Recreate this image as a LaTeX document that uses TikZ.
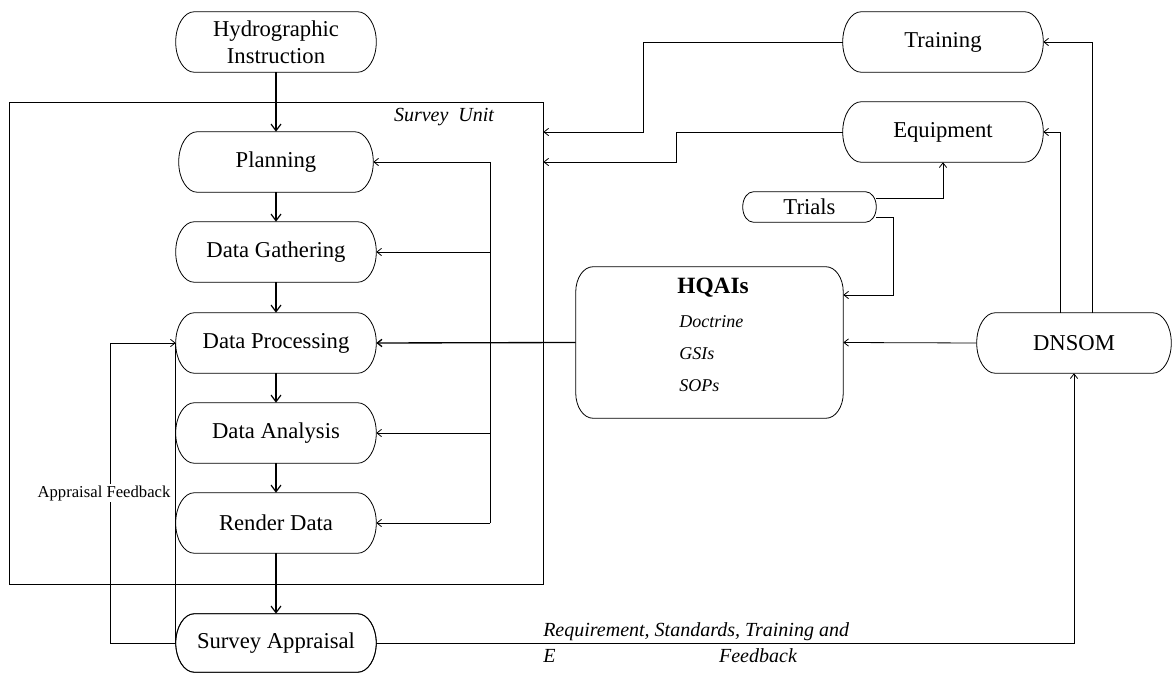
\documentclass[tikz,border=0pt]{standalone}
\usepackage{fontspec}
\setmainfont{Liberation Serif}
\usetikzlibrary{arrows.meta,calc}
\newcommand\mfont{\fontsize{17}{20.5}\selectfont}
\newcommand\ifont{\fontsize{15}{18}\selectfont\itshape}
\newcommand\sfontx{\fontsize{13.5}{15}\selectfont\itshape}
\newcommand\stadium[3]{%
  \draw[line width=0.6pt] ([xshift=#2]#1.north west) -- ([xshift=-#2]#1.north east)
    arc[start angle=90,end angle=0,x radius=#2,y radius=#3]
    -- ([yshift=#3]#1.south east)
    arc[start angle=0,end angle=-90,x radius=#2,y radius=#3]
    -- ([xshift=#2]#1.south west)
    arc[start angle=270,end angle=180,x radius=#2,y radius=#3]
    -- ([yshift=-#3]#1.north west)
    arc[start angle=180,end angle=90,x radius=#2,y radius=#3] -- cycle;}
\begin{document}
\begin{tikzpicture}[x=0.75pt,y=-0.75pt,
  box/.style={minimum width=150pt, minimum height=45pt, inner sep=0pt, align=center, font=\mfont},
  ln/.style={line width=0.6pt},
  arr/.style={line width=0.6pt, -{Straight Barb[length=3.5pt,width=5.5pt]}},
  mainarr/.style={line width=0.9pt, -{Straight Barb[length=5pt,width=7.5pt]}}]
\useasboundingbox (0,0) rectangle (1172,673);
% survey unit frame
\node[draw, line width=0.6pt, minimum width=400pt, minimum height=361.5pt, inner sep=0pt] (su) at (276.25,343) {};
\node[font=\ifont] (sul) at (444,117) {Survey\ \ Unit};
% main column
\node[box] (hi) at (276,42) {Hydrographic\\Instruction};
\node[box, minimum width=145.5pt] (plan) at (276,162) {Planning};
\node[box] (gath) at (276,252) {Data Gathering};
\node[box] (proc) at (276,343) {Data Processing};
\node[box] (anal) at (276,433) {Data Analysis};
\node[box] (rend) at (276,523) {Render Data};
\node[box, minimum height=43.5pt] (appr) at (276,643) {Survey Appraisal};
% right side
\node[box] (train) at (943,42) {Training};
\node[box] (equip) at (943,132) {Equipment};
\node[box, minimum width=99.75pt, minimum height=22.5pt] (trials) at (809.5,207) {Trials};
\node[box, minimum width=200.25pt, minimum height=113.25pt] (hqai) at (709.5,342.5) {};
\node[font=\fontsize{17.5}{20}\selectfont\bfseries] (hq) at (713,288) {HQAIs};
\node[anchor=west, font=\sfontx, inner sep=0pt] (doc) at (679,322) {Doctrine};
\node[anchor=west, font=\sfontx, inner sep=0pt] (gsi) at (679,354) {GSIs};
\node[anchor=west, font=\sfontx, inner sep=0pt] (sop) at (679,386) {SOPs};
\node[box, minimum width=145.5pt] (dnsom) at (1074,343) {DNSOM};
% outlines
\foreach \n in {hi,plan,gath,proc,anal,rend,appr,train,equip,dnsom}{\stadium{\n}{14pt}{22.5pt}}
\stadium{appr}{14pt}{21.75pt}
\stadium{trials}{8pt}{11.25pt}
\stadium{hqai}{13pt}{19pt}
% main flow
\draw[mainarr] (hi) -- (plan);
\draw[mainarr] (plan) -- (gath);
\draw[mainarr] (gath) -- (proc);
\draw[mainarr] (proc) -- (anal);
\draw[mainarr] (anal) -- (rend);
\draw[mainarr] (rend) -- (appr);
% HQAI bus
\coordinate (b1) at (490,162);
\coordinate (b2) at (490,252);
\coordinate (b3) at (490,343);
\coordinate (b4) at (490,433);
\coordinate (b5) at (490,523);
\draw[ln] (b1) -- (b5);
\draw[arr] (b1) -- (plan.east);
\draw[arr] (b2) -- (gath.east);
\draw[arr] (b4) -- (anal.east);
\draw[arr] (b5) -- (rend.east);
\draw[line width=1pt, -{Straight Barb[length=3.5pt,width=5.5pt]}] (hqai.west) -- (proc.east);
% appraisal feedback
\draw[ln] (proc.west) -- (appr.west);
\draw[arr] (appr.west) -| (110,343) -- (proc.west);
\node[fill=white, inner sep=1pt, font=\fontsize{12.5}{14}\selectfont] (afl) at (104,493) {Appraisal Feedback};
% training / equipment to survey unit
\draw[arr] (train.west) -| (643,132) -- (su.east |- 0,132);
\draw[arr] (equip.west) -| (676,162) -- (su.east |- 0,162);
% trials
\draw[arr] ([yshift=6.75pt]trials.east) -| (equip.south);
\draw[arr] ([yshift=-7.5pt]trials.east) -| (893,295) -- (hqai.east |- 0,295);
% DNSOM
\draw[arr] (dnsom.west) -- (hqai.east);
\draw[arr] ([xshift=-10.5pt]dnsom.north) |- (equip.east);
\draw[arr] ([xshift=13.5pt]dnsom.north) |- (train.east);
\draw[arr] (appr.east) -| (dnsom.south);
\node[anchor=west, font=\ifont, inner sep=0pt] (r1) at (543,632) {Requirement, Standards, Training and};
\node[anchor=west, font=\ifont, inner sep=0pt] (r2) at (543,656) {E};
\node[font=\ifont, inner sep=0pt] (r3) at (758,656) {Feedback};
\end{tikzpicture}
\end{document}
